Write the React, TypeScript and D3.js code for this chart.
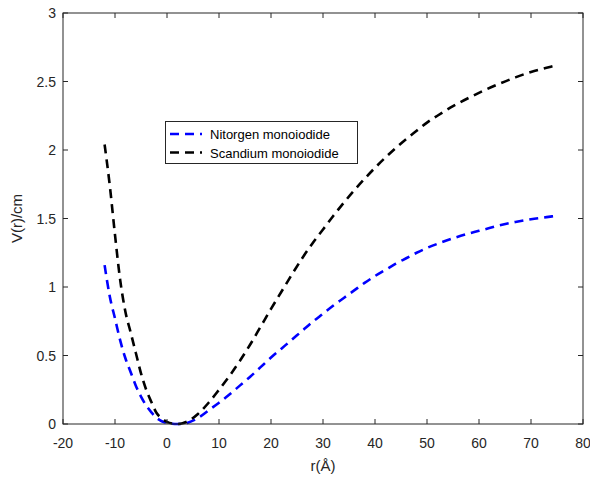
import React from "react";
import * as d3 from "d3";

const rValues = [-12, -11, -10, -9, -8, -7, -6, -5, -4, -3, -2, -1, 0, 1, 2, 3, 4, 6, 8, 10, 12, 14, 16, 18, 20, 22, 24, 26, 28, 30, 32, 34, 36, 38, 40, 42, 44, 46, 48, 50, 52, 55, 58, 61, 64, 67, 70, 73, 75];

const nitrogenValues = [1.16, 0.93, 0.77, 0.61, 0.48, 0.38, 0.28, 0.2, 0.135, 0.085, 0.045, 0.02, 0.008, 0.002, 0, 0.002, 0.01, 0.045, 0.1, 0.155, 0.215, 0.28, 0.345, 0.415, 0.485, 0.55, 0.615, 0.68, 0.745, 0.805, 0.865, 0.92, 0.975, 1.03, 1.08, 1.125, 1.17, 1.21, 1.25, 1.285, 1.315, 1.355, 1.39, 1.42, 1.45, 1.475, 1.495, 1.51, 1.52];

const scandiumValues = [2.04, 1.74, 1.38, 1.05, 0.82, 0.67, 0.52, 0.37, 0.25, 0.16, 0.08, 0.04, 0.015, 0.003, 0, 0.005, 0.02, 0.075, 0.155, 0.25, 0.35, 0.46, 0.58, 0.71, 0.84, 0.965, 1.09, 1.21, 1.32, 1.42, 1.52, 1.615, 1.705, 1.79, 1.87, 1.945, 2.015, 2.08, 2.14, 2.2, 2.25, 2.32, 2.38, 2.435, 2.485, 2.53, 2.57, 2.6, 2.62];

const xTicks = [-20, -10, 0, 10, 20, 30, 40, 50, 60, 70, 80];
const yTicks = [0, 0.5, 1, 1.5, 2, 2.5, 3];

const seriesNames = ["Nitorgen monoiodide", "Scandium monoiodide"];
const seriesColors = ["#0000ff", "#000000"];

export default function App() {
  const W = 590, H = 479;
  const left = 63, right = 583, top = 13, bottom = 424;
  const x = d3.scaleLinear().domain([-20, 80]).range([left, right]);
  const y = d3.scaleLinear().domain([0, 3]).range([bottom, top]);
  const axisColor = "#262626";
  const font = "Arial, 'Liberation Sans', sans-serif";
  const line = d3.line<[number, number]>().x(d => x(d[0])).y(d => y(d[1])).curve(d3.curveMonotoneX);
  const data = [nitrogenValues, scandiumValues].map(vals => rValues.map((r, i) => [r, vals[i]] as [number, number]));
  const tickLen = 5;
  const dash = "9,6";
  const sw = 2.6;

  return (
    <svg width={W} height={H} style={{ position: "absolute", left: 0, top: 0, background: "#fff" }} fontFamily={font}>
      <rect x={0} y={0} width={W} height={H} fill="#fff" />
      {data.map((d, i) => (
        <path key={i} d={line(d) || ""} fill="none" stroke={seriesColors[i]} strokeWidth={sw} strokeDasharray={dash} />
      ))}
      <rect x={left} y={top} width={right - left} height={bottom - top} fill="none" stroke={axisColor} strokeWidth={1} />
      {xTicks.map(t => (
        <g key={"x" + t}>
          <line x1={x(t)} x2={x(t)} y1={bottom} y2={bottom - tickLen} stroke={axisColor} />
          <line x1={x(t)} x2={x(t)} y1={top} y2={top + tickLen} stroke={axisColor} />
          <text x={x(t)} y={bottom + 24} textAnchor="middle" fontSize={14} fill={axisColor}>{t}</text>
        </g>
      ))}
      {yTicks.map(t => (
        <g key={"y" + t}>
          <line x1={left} x2={left + tickLen} y1={y(t)} y2={y(t)} stroke={axisColor} />
          <line x1={right} x2={right - tickLen} y1={y(t)} y2={y(t)} stroke={axisColor} />
          <text x={left - 7} y={y(t) + 5} textAnchor="end" fontSize={14} fill={axisColor}>{t}</text>
        </g>
      ))}
      <text x={(left + right) / 2} y={471} textAnchor="middle" fontSize={15} fill={axisColor}>r(Å)</text>
      <text transform={`translate(22, ${(top + bottom) / 2}) rotate(-90)`} textAnchor="middle" fontSize={15} fill={axisColor}>V(r)/cm</text>
      <rect x={165.5} y={121.5} width={192} height={42} fill="#fff" stroke={axisColor} strokeWidth={1} />
      {seriesNames.map((n, i) => (
        <g key={n}>
          <line x1={170} x2={202} y1={134 + i * 18.5} y2={134 + i * 18.5} stroke={seriesColors[i]} strokeWidth={sw} strokeDasharray={dash} />
          <text x={210} y={139 + i * 18.5} fontSize={13} fill="#000">{n}</text>
        </g>
      ))}
    </svg>
  );
}
